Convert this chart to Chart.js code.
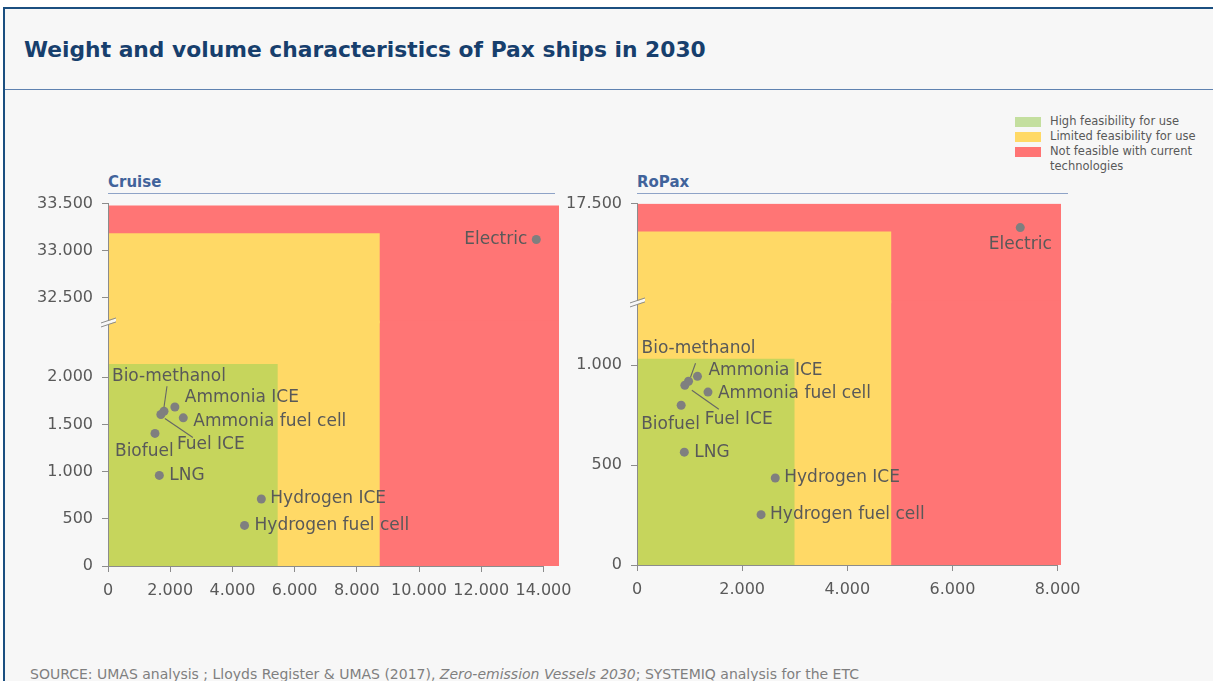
<!DOCTYPE html>
<html>
<head>
<meta charset="utf-8">
<script src="https://cdn.jsdelivr.net/npm/chart.js@4.4.0/dist/chart.umd.min.js"></script>
<style>
html,body{margin:0;padding:0;background:#ffffff;}
body{width:1213px;height:681px;position:relative;overflow:hidden;font-family:"DejaVu Sans",sans-serif;}
#frame{position:absolute;left:3px;top:7px;width:1212px;height:676px;background:#f7f7f7;border-left:2.5px solid #1b4f80;border-top:2.5px solid #1b4f80;box-sizing:border-box;}
#hdrline{position:absolute;left:5px;top:89px;width:1210px;height:0;border-top:1.5px solid #5f82b0;}
#title{position:absolute;left:24px;top:37px;font-weight:bold;font-size:21.8px;color:#173f6d;white-space:nowrap;}
.ptitle{position:absolute;top:173px;font-weight:bold;font-size:15px;color:#41639b;white-space:nowrap;}
.uline{position:absolute;top:193px;height:0;border-top:1.5px solid #8ea3c7;}
.chartbox{position:absolute;}
#legend{position:absolute;left:1015px;top:114px;font-size:11.5px;color:#595959;line-height:15px;}
.lrow{position:relative;padding-left:35px;}
.lsw{position:absolute;left:0;top:2.5px;width:26px;height:10px;}
#source{position:absolute;left:30px;top:666px;font-size:14px;color:#7f7f7f;white-space:nowrap;}
</style>
</head>
<body>
<div id="frame"></div>
<div id="hdrline"></div>
<div id="title">Weight and volume characteristics of Pax ships in 2030</div>

<div class="ptitle" style="left:108px;">Cruise</div>
<div class="uline" style="left:108px;width:447px;"></div>
<div class="ptitle" style="left:637px;">RoPax</div>
<div class="uline" style="left:637px;width:431px;"></div>

<div id="legend"></div>

<div class="chartbox" style="left:10px;top:185px;width:579px;height:417px;"><canvas id="cruise"></canvas></div>
<div class="chartbox" style="left:557px;top:185px;width:534px;height:416px;"><canvas id="ropax"></canvas></div>

<div id="source">SOURCE: UMAS analysis ; Lloyds Register &amp; UMAS (2017), <i>Zero-emission Vessels 2030</i>; SYSTEMIQ analysis for the ETC</div>

<script>
// ---------------- DATA ----------------
const technologies = ['Electric', 'Bio-methanol', 'Fuel ICE', 'Ammonia ICE', 'Ammonia fuel cell', 'Biofuel', 'LNG', 'Hydrogen ICE', 'Hydrogen fuel cell'];

// Cruise
const cruiseX = [13770, 1800, 1700, 2150, 2420, 1510, 1650, 4930, 4390];
const cruiseY = [33120, 1640, 1605, 1685, 1570, 1405, 960, 710, 430];
// RoPax
const ropaxX = [7290, 980, 910, 1150, 1350, 840, 900, 2630, 2360];
const ropaxY = [17380, 920, 900, 945, 866, 800, 565, 436, 252];

// Feasibility zones (high, limited, not feasible)
const zoneNames = ['High feasibility for use', 'Limited feasibility for use', 'Not feasible with current technologies'];
const cruiseZoneX = [5460, 8740, 14500];
const cruiseZoneY = [2140, 33185, 33480];
const ropaxZoneX = [3000, 4840, 8065];
const ropaxZoneY = [1033, 17360, 17500];

// Axis ranges / ticks (broken y axes: lower and upper segment)
const cruiseXTicks = [0, 2000, 4000, 6000, 8000, 10000, 12000, 14000];
const cruiseLowRange = [0, 2570];
const cruiseLowTicks = [0, 500, 1000, 1500, 2000];
const cruiseHighRange = [32230, 33500];
const cruiseHighTicks = [32500, 33000, 33500];

const ropaxXTicks = [0, 2000, 4000, 6000, 8000];
const ropaxLowRange = [0, 1310];
const ropaxLowTicks = [0, 500, 1000];
const ropaxHighRange = [17000, 17500];
const ropaxHighTicks = [17500];

// ---------------- STYLE ----------------
const zoneColors = ['#c6d55c', '#ffd966', '#ff7575'];
const legendColors = ['#c4df9f', '#ffd966', '#ff7474'];
const pointColor = '#7f7f7f';
const textColor = '#595959';
const labelFont = '17px "DejaVu Sans"';
const bg = '#f7f7f7';

// label offsets (pixels, style only) per technology
const cruiseLabelStyle = [
  {dx: -9, dy: 0, align: 'right'},
  {dx: -52, dy: -35, align: 'left', leader: [0, -4, 3, -25]},
  {dx: 16, dy: 30, align: 'left', leader: [4, 4, 32, 23]},
  {dx: 10, dy: -9, align: 'left'},
  {dx: 10, dy: 4, align: 'left'},
  {dx: -40, dy: 18, align: 'left'},
  {dx: 10, dy: 0, align: 'left'},
  {dx: 9, dy: 0, align: 'left'},
  {dx: 10, dy: 0, align: 'left'}
];
const ropaxLabelStyle = [
  {dx: 0, dy: 17, align: 'center'},
  {dx: -47, dy: -33, align: 'left', leader: [2, -4, 7, -18]},
  {dx: 20, dy: 34, align: 'left', leader: [7, 5, 34, 24]},
  {dx: 11, dy: -6, align: 'left'},
  {dx: 10, dy: 1, align: 'left'},
  {dx: -40, dy: 19, align: 'left'},
  {dx: 10, dy: 0, align: 'left'},
  {dx: 9, dy: 0, align: 'left'},
  {dx: 9, dy: 0, align: 'left'}
];

function fmt(v) {
  return String(Math.round(v)).replace(/\B(?=(\d{3})+(?!\d))/g, '.');
}

// legend
const legendEl = document.getElementById('legend');
const legendText = ['High feasibility for use', 'Limited feasibility for use', 'Not feasible with current<br>technologies'];
legendText.forEach((t, i) => {
  const r = document.createElement('div');
  r.className = 'lrow';
  r.innerHTML = '<span class="lsw" style="background:' + legendColors[i] + '"></span>' + t;
  legendEl.appendChild(r);
});

const pointLabelPlugin = {
  id: 'pointLabels',
  afterDatasetsDraw(chart) {
    const ctx = chart.ctx;
    const styles = chart.options.plugins.pointLabels.styles;
    ctx.save();
    ctx.font = labelFont;
    ctx.fillStyle = textColor;
    ctx.textBaseline = 'middle';
    chart.data.datasets.forEach((ds, di) => {
      if (!ds.labelIdx) return;
      const meta = chart.getDatasetMeta(di);
      meta.data.forEach((el, k) => {
        const idx = ds.labelIdx[k];
        const st = styles[idx];
        ctx.textAlign = st.align;
        ctx.fillText(technologies[idx], el.x + st.dx, el.y + st.dy);
        if (st.leader) {
          ctx.beginPath();
          ctx.strokeStyle = '#666666';
          ctx.lineWidth = 1.1;
          ctx.moveTo(el.x + st.leader[0], el.y + st.leader[1]);
          ctx.lineTo(el.x + st.leader[2], el.y + st.leader[3]);
          ctx.stroke();
        }
      });
    });
    ctx.restore();
  },
  afterDraw(chart) {
    const ctx = chart.ctx;
    const xs = chart.scales.x;
    const ticks = xs.ticks;
    const bottom = chart.scales.y.bottom;
    // x axis line from first to last tick
    ctx.save();
    ctx.strokeStyle = '#8c8c8c';
    ctx.lineWidth = 1;
    ctx.beginPath();
    ctx.moveTo(xs.getPixelForValue(ticks[0].value), bottom + 0.5);
    ctx.lineTo(xs.getPixelForValue(ticks[ticks.length - 1].value), bottom + 0.5);
    ctx.stroke();
    // axis break mark
    const bx = chart.scales.y.right;
    const by = chart.scales.y.top;
    ctx.fillStyle = bg;
    ctx.beginPath();
    ctx.moveTo(bx - 7, by + 3);
    ctx.lineTo(bx + 8, by - 2);
    ctx.lineTo(bx + 8, by - 5);
    ctx.lineTo(bx - 7, by);
    ctx.closePath();
    ctx.fill();
    ctx.strokeStyle = '#8c8c8c';
    ctx.lineWidth = 1;
    ctx.beginPath();
    ctx.moveTo(bx - 7, by + 3.5);
    ctx.lineTo(bx + 8, by - 1.5);
    ctx.moveTo(bx - 7, by - 0.5);
    ctx.lineTo(bx + 8, by - 5.5);
    ctx.stroke();
    ctx.restore();
  }
};

function makePanel(id, xs, ys, zoneX, zoneY, xTicks, lowRange, lowTicks, highRange, highTicks, labelStyle, yWidth) {
  const datasets = [];
  const lowPts = [], highPts = [], lowIdx = [], highIdx = [];
  technologies.forEach((t, i) => {
    if (ys[i] >= highRange[0]) { highPts.push({x: xs[i], y: ys[i]}); highIdx.push(i); }
    else { lowPts.push({x: xs[i], y: ys[i]}); lowIdx.push(i); }
  });
  const ptStyle = {pointRadius: 4.5, pointHoverRadius: 4.5, pointBackgroundColor: pointColor, pointBorderWidth: 0, showLine: false};
  datasets.push(Object.assign({type: 'scatter', label: 'upper', data: highPts, yAxisID: 'yHigh', labelIdx: highIdx}, ptStyle));
  datasets.push(Object.assign({type: 'scatter', label: 'lower', data: lowPts, yAxisID: 'y', labelIdx: lowIdx}, ptStyle));
  // zones: first (high feasibility) drawn on top
  const seam = (lowRange[1] - lowRange[0]) * 0.012; // small overlap across the axis break
  zoneX.forEach((zx, z) => {
    const top = zoneY[z];
    const crosses = top > lowRange[1];
    const lowTop = crosses ? lowRange[1] + seam : top;
    datasets.push({
      type: 'line', label: zoneNames[z], yAxisID: 'y',
      data: [{x: 0, y: lowTop}, {x: zx, y: lowTop}],
      clip: {left: 0, top: crosses ? 4 : 0, right: 0, bottom: 0},
      fill: 'start', backgroundColor: zoneColors[z], borderWidth: 0, pointRadius: 0, borderColor: 'rgba(0,0,0,0)'
    });
    if (top > highRange[0]) {
      datasets.push({
        type: 'line', label: zoneNames[z] + ' (upper)', yAxisID: 'yHigh',
        data: [{x: 0, y: top}, {x: zx, y: top}],
        fill: 'start', backgroundColor: zoneColors[z], borderWidth: 0, pointRadius: 0, borderColor: 'rgba(0,0,0,0)'
      });
    }
  });
  const tickFont = {family: 'DejaVu Sans', size: 16};
  const yCommon = (range, ticks) => ({
    type: 'linear', position: 'left', stack: 'v', stackWeight: range[1] - range[0],
    min: range[0], max: range[1],
    afterBuildTicks: s => { s.ticks = ticks.map(v => ({value: v})); },
    afterFit: s => { s.width = yWidth; },
    grid: {drawOnChartArea: false, drawTicks: true, tickLength: 6, color: '#8c8c8c'},
    border: {display: true, color: '#8c8c8c', z: 1},
    ticks: {font: tickFont, color: textColor, padding: 9, callback: v => fmt(v)}
  });
  return new Chart(document.getElementById(id), {
    type: 'scatter',
    data: {datasets},
    options: {
      responsive: true, maintainAspectRatio: false, animation: false,
      layout: {padding: {top: 0, right: 30, left: 0, bottom: 0}},
      plugins: {legend: {display: false}, tooltip: {enabled: false}, pointLabels: {styles: labelStyle}},
      scales: {
        x: {
          type: 'linear', min: 0, max: Math.max(...zoneX),
          afterBuildTicks: s => { s.ticks = xTicks.map(v => ({value: v})); },
          afterFit: s => { s.height = 36; },
          grid: {drawOnChartArea: false, drawTicks: true, tickLength: 6, color: '#8c8c8c'},
          border: {display: false},
          ticks: {font: tickFont, color: textColor, padding: 9, maxRotation: 0, autoSkip: false, callback: v => fmt(v)}
        },
        y: yCommon(lowRange, lowTicks),
        yHigh: yCommon(highRange, highTicks)
      }
    },
    plugins: [pointLabelPlugin]
  });
}

makePanel('cruise', cruiseX, cruiseY, cruiseZoneX, cruiseZoneY, cruiseXTicks, cruiseLowRange, cruiseLowTicks, cruiseHighRange, cruiseHighTicks, cruiseLabelStyle, 98);
makePanel('ropax', ropaxX, ropaxY, ropaxZoneX, ropaxZoneY, ropaxXTicks, ropaxLowRange, ropaxLowTicks, ropaxHighRange, ropaxHighTicks, ropaxLabelStyle, 80);
</script>
</body>
</html>
